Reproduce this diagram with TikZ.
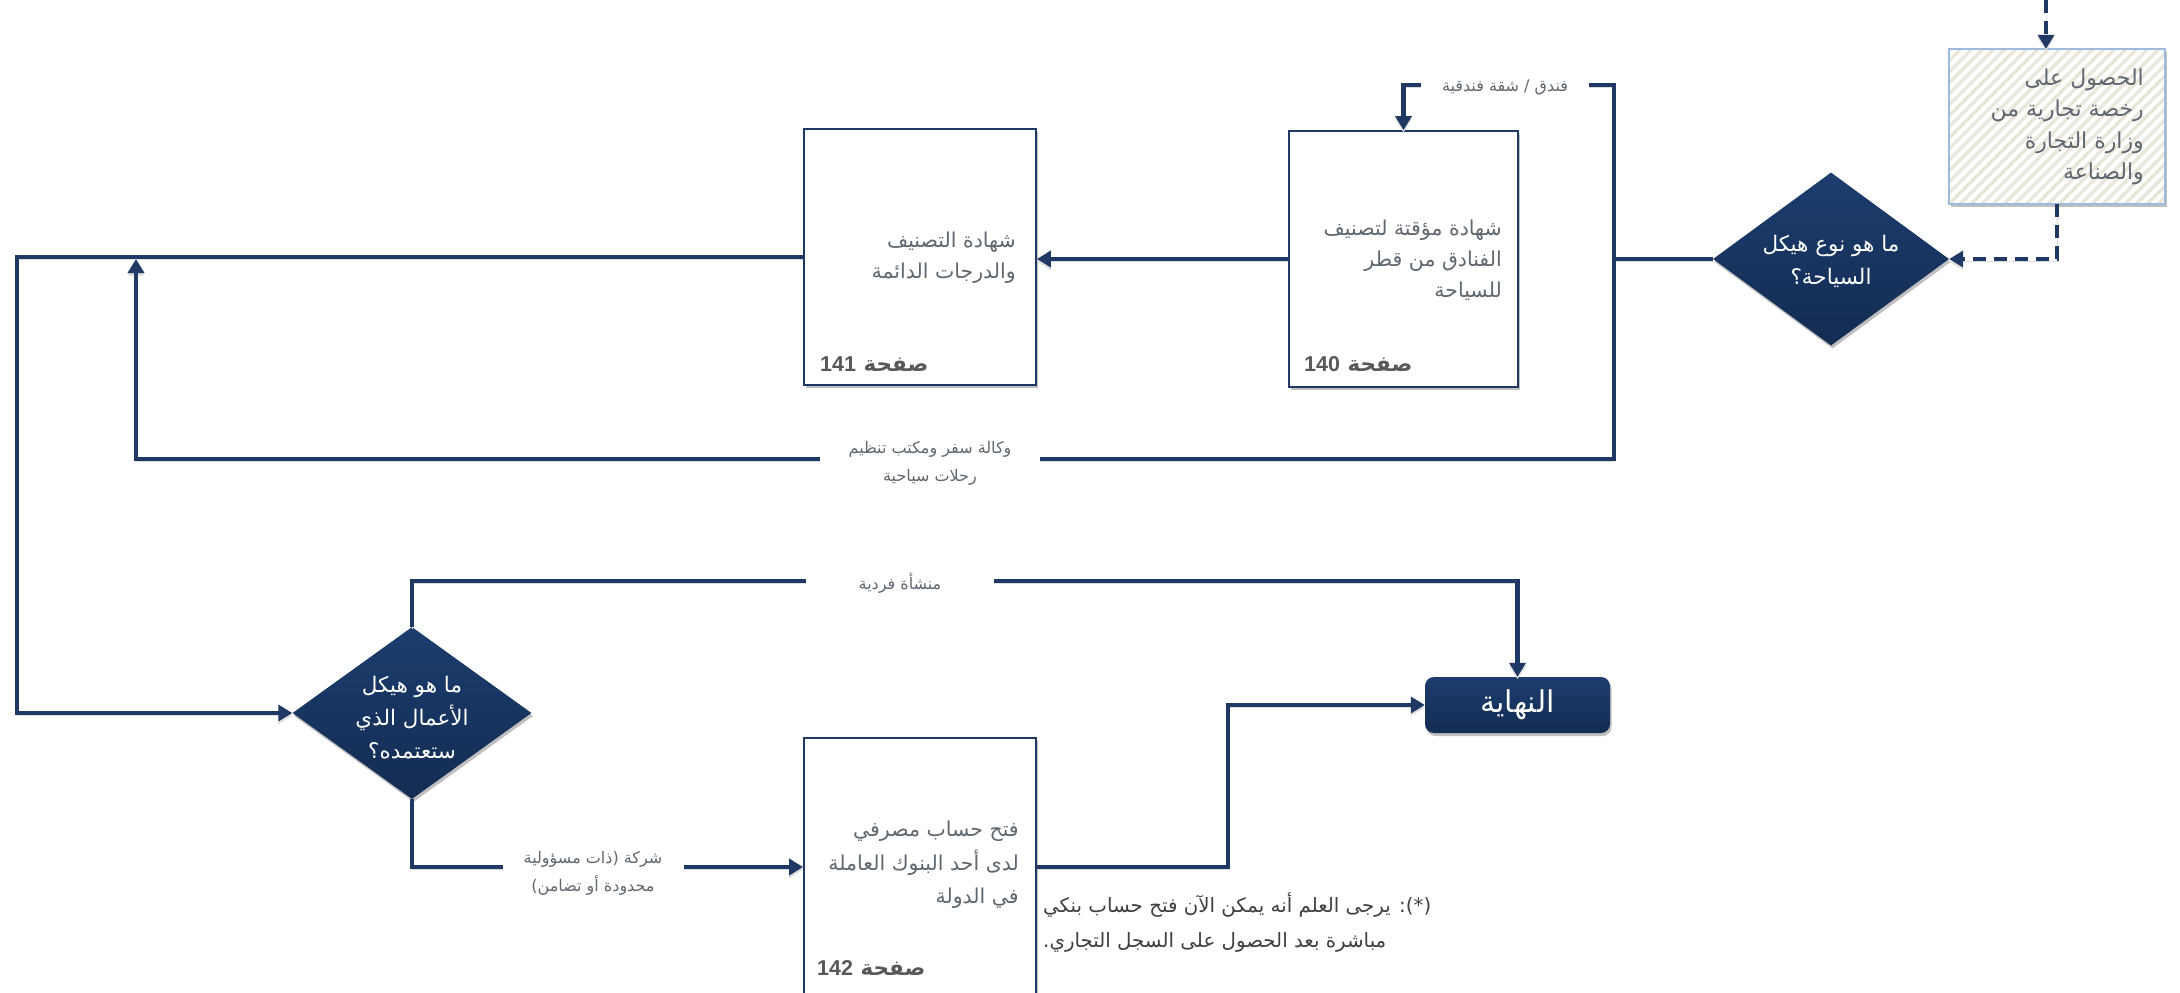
\documentclass[tikz,border=0pt]{standalone}
\usepackage{fontspec}
\setmainfont{Liberation Sans}
\newfontfamily\arabicfont[Script=Arabic]{DejaVu Sans}
\newfontfamily\latinfont{Liberation Sans}
\TeXXeTstate=1
\usetikzlibrary{shapes.geometric,arrows.meta,shadows}
\definecolor{navy}{RGB}{31,56,100}
\definecolor{dtop}{RGB}{28,61,110}
\definecolor{dbot}{RGB}{19,44,82}
\definecolor{txtgray}{RGB}{95,104,112}
\definecolor{pggray}{RGB}{89,89,89}
\definecolor{notegray}{RGB}{64,64,64}
\definecolor{stripe}{RGB}{233,230,218}
\definecolor{licborder}{RGB}{157,185,222}
\newcommand\arl[1]{\beginR#1\endR}
\begin{document}
\begin{tikzpicture}[x=1pt,y={(0pt,-1pt)},
  conn/.style={draw=navy,line width=4.5pt,preaction={draw=black!14,transform canvas={yshift=-2.5pt}}},
  arr/.style={conn,-{Triangle[length=14pt,width=16pt]}},
  darr/.style={arr,dash pattern=on 13pt off 8pt},
  shd/.style={drop shadow={shadow xshift=1.5pt,shadow yshift=-3pt,opacity=0.25,fill=black}},
  pbox/.style={rectangle,draw=navy,line width=1.8pt,fill=white,inner sep=0pt,shd},
  dec/.style={diamond,inner sep=0pt,shd,top color=dtop,bottom color=dbot,draw=none},
  bxtxt/.style={align=right,text=txtgray,inner sep=0pt,font={\arabicfont\fontsize{20.5}{31}\selectfont}},
  pgtxt/.style={anchor=west,text=pggray,inner sep=0pt,font={\arabicfont\bfseries\fontsize{21.5}{24}\selectfont}},
  dtxt/.style={align=center,text=white,inner sep=0pt,font={\arabicfont\fontsize{21.5}{33}\selectfont}},
  lbl/.style={align=center,text=txtgray,fill=white,inner ysep=2pt,font={\arabicfont\fontsize{16}{28}\selectfont}}
]
\useasboundingbox[fill=white] (0,0) rectangle (2180,993);

% license box
\node[rectangle,fill=white,minimum width=216pt,minimum height=155pt,inner sep=0pt,shd] (lic) at (2057,126.5) {};
\begin{scope}
\clip (1949,49) rectangle (2165,204);
\foreach \i in {0,...,36} {\draw[stripe,line width=3.5pt] (1789+\i*11,210) -- ++(170,-170);}
\end{scope}
\draw[licborder,line width=1.5pt] (lic.north west) rectangle (lic.south east);
\node[bxtxt,anchor=east,font={\arabicfont\fontsize{22}{31.5}\selectfont}] (tlic) at (2144,127)
  {\arl{الحصول على}\\ \arl{رخصة تجارية من}\\ \arl{وزارة التجارة}\\ \arl{والصناعة}};

% decisions
\node[dec,minimum width=236pt,minimum height=173pt] (d1) at (1831,259) {};
\node[dtxt] (td1) at (1831,261) {\arl{ما هو نوع هيكل}\\ \arl{السياحة؟}};
\node[dec,minimum width=239pt,minimum height=172pt] (d2) at (412,713) {};
\node[dtxt] (td2) at (412,718) {\arl{ما هو هيكل}\\ \arl{الأعمال الذي}\\ \arl{ستعتمده؟}};

% process boxes
\node[pbox,minimum width=229pt,minimum height=256pt] (b140) at (1403.5,259) {};
\node[bxtxt,anchor=east] (t140) at (1502,260) {\arl{شهادة مؤقتة لتصنيف}\\ \arl{الفنادق من قطر}\\ \arl{للسياحة}};
\node[pgtxt] (p140) at (1304,364) {\arl{صفحة \beginL{\latinfont\bfseries 140}\endL}};

\node[pbox,minimum width=232pt,minimum height=256pt] (b141) at (920,257) {};
\node[bxtxt,anchor=east] (t141) at (1016,258) {\arl{شهادة التصنيف}\\ \arl{والدرجات الدائمة}};
\node[pgtxt] (p141) at (820,364) {\arl{صفحة \beginL{\latinfont\bfseries 141}\endL}};

\node[pbox,minimum width=232pt,minimum height=258pt] (b142) at (920,867) {};
\node[bxtxt,anchor=east,font={\arabicfont\fontsize{20.5}{33.5}\selectfont}] (t142) at (1019,865) {\arl{فتح حساب مصرفي}\\ \arl{لدى أحد البنوك العاملة}\\ \arl{في الدولة}};
\node[pgtxt] (p142) at (817,968) {\arl{صفحة \beginL{\latinfont\bfseries 142}\endL}};

% end
\node[rectangle,rounded corners=9pt,top color=dtop,bottom color=dbot,minimum width=185pt,minimum height=56pt,shd,text=white,font={\arabicfont\fontsize{30}{34}\selectfont}] (endn) at (1517.5,705) {\arl{النهاية}};

% note
\node[anchor=west,align=left,text=notegray,inner sep=0pt,font={\arabicfont\fontsize{19.8}{35}\selectfont}] (note) at (1043,923)
  {\arl{(*): يرجى العلم أنه يمكن الآن فتح حساب بنكي}\\ \arl{مباشرة بعد الحصول على السجل التجاري.}};

% coordinates
\coordinate (topin) at (2046,0);
\coordinate (bus) at (1614,259);
\coordinate (bustop) at (1614,85);
\coordinate (busbot) at (1614,459);
\coordinate (jn) at (136,259);
\coordinate (ofr) at (17,0);
\coordinate (top2) at (412,581);
\coordinate (mid) at (1228,0);

% connectors
\draw[darr] (topin) -- (topin |- lic.north);
\draw[darr] (lic.south) |- (d1.east);
\draw[arr] (d1.west) -- (bus) -- (bustop) -| (b140.north);
\draw[arr] (bus) -- (busbot) -| (jn);
\draw[arr] (b140.west) -- (b140.west -| b141.east);
\draw[arr] (b141.west) -- (b141.west -| ofr) |- (d2.west);
\draw[arr] (d2.north) -- (top2) -| (endn.north);
\draw[arr] (d2.south) |- (b142.west);
\draw[arr] (b142.east) -- (b142.east -| mid) |- (endn.west);

% labels on connectors
\node[lbl,minimum width=168pt] (lfl) at (1505,87) {\arl{فندق / شقة فندقية}};
\node[lbl,minimum width=220pt] (lag) at (930,463) {\arl{وكالة سفر ومكتب تنظيم}\\ \arl{رحلات سياحية}};
\node[lbl,minimum width=188pt] (lso) at (900,583) {\arl{منشأة فردية}};
\node[lbl,minimum width=181pt] (lco) at (593,873) {\arl{شركة (ذات مسؤولية}\\ \arl{محدودة أو تضامن)}};
\end{tikzpicture}
\end{document}
